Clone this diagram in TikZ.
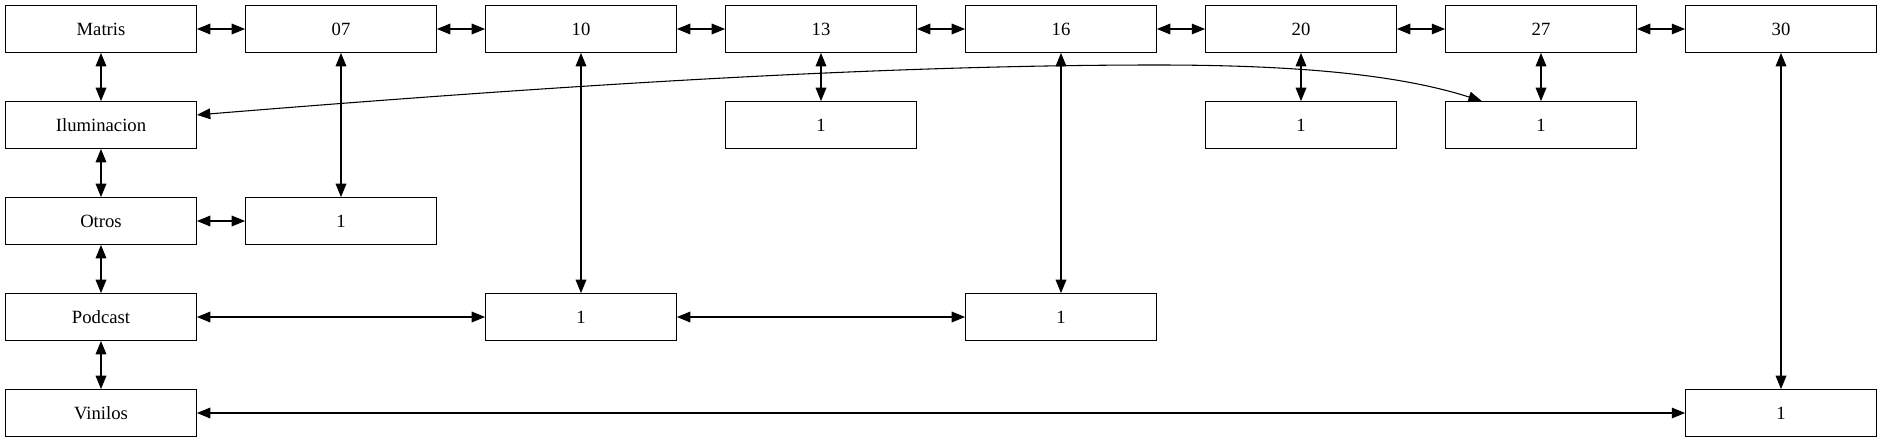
\documentclass[tikz,border=0pt]{standalone}
\usepackage{fontspec}
\setmainfont{Liberation Serif}
\usetikzlibrary{arrows.meta}
\begin{document}
\begin{tikzpicture}[x=0.75pt,y=-0.75pt,
  box/.style={draw, line width=0.9pt, minimum width=143pt, minimum height=35pt, inner sep=0pt, font=\fontsize{14}{16}\selectfont},
  link/.style={{Triangle[length=10pt,width=8pt]}-{Triangle[length=10pt,width=8pt]}, line width=0.8pt}]
\useasboundingbox (0,0) rectangle (1883,443);
% top row
\node[box] (m)   at (101,29) {Matris};
\node[box] (c07) at (341,29) {07};
\node[box] (c10) at (581,29) {10};
\node[box] (c13) at (821,29) {13};
\node[box] (c16) at (1061,29) {16};
\node[box] (c20) at (1301,29) {20};
\node[box] (c27) at (1541,29) {27};
\node[box] (c30) at (1781,29) {30};
% left column
\node[box] (ilu) at (101,125) {Iluminacion};
\node[box] (otr) at (101,221) {Otros};
\node[box] (pod) at (101,317) {Podcast};
\node[box] (vin) at (101,413) {Vinilos};
% leaves
\node[box] (a13) at (821,125) {1};
\node[box] (a20) at (1301,125) {1};
\node[box] (a27) at (1541,125) {1};
\node[box] (a07) at (341,221) {1};
\node[box] (a10) at (581,317) {1};
\node[box] (a16) at (1061,317) {1};
\node[box] (a30) at (1781,413) {1};
% top row links
\draw[link] (m) -- (c07);
\draw[link] (c07) -- (c10);
\draw[link] (c10) -- (c13);
\draw[link] (c13) -- (c16);
\draw[link] (c16) -- (c20);
\draw[link] (c20) -- (c27);
\draw[link] (c27) -- (c30);
% left column links
\draw[link] (m) -- (ilu);
\draw[link] (ilu) -- (otr);
\draw[link] (otr) -- (pod);
\draw[link] (pod) -- (vin);
% vertical links
\draw[link] (c07) -- (a07);
\draw[link] (c10) -- (a10);
\draw[link] (c13) -- (a13);
\draw[link] (c16) -- (a16);
\draw[link] (c20) -- (a20);
\draw[link] (c27) -- (a27);
\draw[link] (c30) -- (a30);
% horizontal links
\draw[link] (otr) -- (a07);
\draw[link] (pod) -- (a10);
\draw[link] (a10) -- (a16);
\draw[link] (vin) -- (a30);
% curved link
\draw[link] (ilu.6.5) .. controls (600,82) and (900,65) .. (1157,65)
  .. controls (1300,65) and (1400,75) .. (a27.158);
\end{tikzpicture}
\end{document}
